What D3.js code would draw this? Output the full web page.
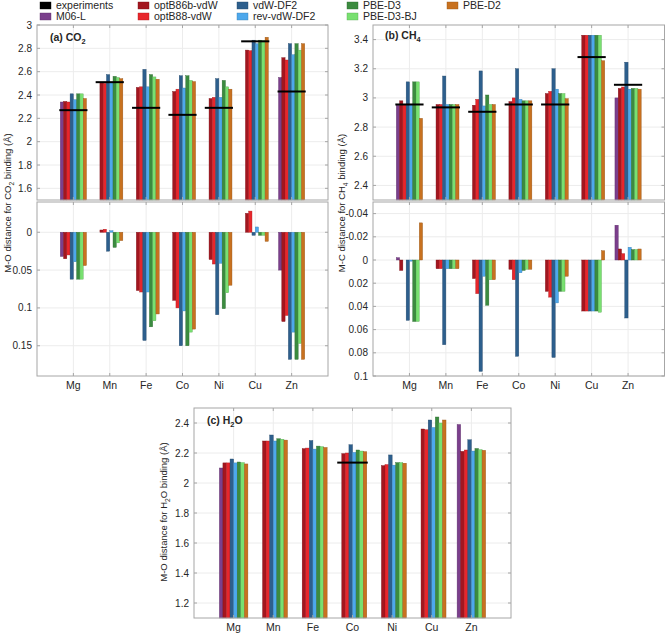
<!DOCTYPE html>
<html>
<head>
<meta charset="utf-8">
<script src="https://cdn.jsdelivr.net/npm/d3@7"></script>
<style>
  body { margin: 0; background: #fff; }
  text { font-family: "Liberation Sans", Arial, sans-serif; fill: #262626; }
</style>
</head>
<body>
<svg id="chart" width="666" height="634"></svg>
<script>
// metals on the x axis
const metals = ['Mg', 'Mn', 'Fe', 'Co', 'Ni', 'Cu', 'Zn'];

// bar series (experiments is drawn as a black line)
const methods = ['M06-L', 'optB86b-vdW', 'optB88-vdW', 'vdW-DF2', 'rev-vdW-DF2', 'PBE-D3', 'PBE-D3-BJ', 'PBE-D2'];
const methodColors = ['#7b3f8c', '#a3161f', '#e8262b', '#2d5f8d', '#4da8ec', '#3b8b3f', '#78e070', '#c8711f'];

// (a) CO2, M-O distance, rows follow methods, columns follow metals
const co2Dist = [
    [2.34, null, null, null, null, null, 2.55],
    [2.345, 2.505, 2.465, 2.43, 2.37, 2.785, 2.72],
    [2.34, 2.50, 2.47, 2.45, 2.38, 2.78, 2.70],
    [2.41, 2.575, 2.62, 2.565, 2.54, 2.87, 2.84],
    [2.36, 2.51, 2.47, 2.46, 2.38, 2.84, 2.745],
    [2.41, 2.56, 2.575, 2.565, 2.525, 2.87, 2.84],
    [2.41, 2.55, 2.555, 2.525, 2.47, 2.865, 2.785],
    [2.37, 2.54, 2.535, 2.515, 2.45, 2.895, 2.84]
];
const co2Exp = [2.27, 2.51, 2.29, 2.23, 2.29, 2.86, 2.43];
const co2Diff = [
    [0.032, null, null, null, null, null, 0.050],
    [0.035, -0.003, 0.077, 0.090, 0.036, -0.025, 0.118],
    [0.030, -0.004, 0.079, 0.100, 0.042, -0.028, 0.110],
    [0.062, 0.025, 0.143, 0.150, 0.109, 0.004, 0.168],
    [0.039, -0.002, 0.079, 0.104, 0.041, -0.007, 0.132],
    [0.062, 0.020, 0.125, 0.150, 0.101, 0.004, 0.168],
    [0.062, 0.014, 0.117, 0.132, 0.080, 0.004, 0.147],
    [0.044, 0.011, 0.108, 0.128, 0.070, 0.012, 0.168]
];

// (b) CH4, M-C distance
const ch4Dist = [
    [2.95, null, null, null, null, null, 3.00],
    [2.98, 2.955, 2.95, 2.975, 3.03, 3.43, 3.065],
    [2.955, 2.955, 2.99, 3.00, 3.045, 3.43, 3.075],
    [3.11, 3.15, 3.185, 3.20, 3.20, 3.43, 3.245],
    [2.955, 2.955, 2.945, 2.99, 3.06, 3.43, 3.06],
    [3.11, 2.955, 3.02, 2.98, 3.03, 3.43, 3.065],
    [3.11, 2.955, 2.955, 2.98, 3.03, 3.43, 3.065],
    [2.86, 2.955, 2.955, 2.98, 2.995, 3.255, 3.06]
];
const ch4Exp = [2.955, 2.935, 2.905, 2.955, 2.955, 3.28, 3.09];
const ch4Diff = [
    [-0.002, null, null, null, null, null, -0.030],
    [0.009, 0.0075, 0.016, 0.008, 0.027, 0.044, -0.0095],
    [0.0, 0.0075, 0.029, 0.017, 0.032, 0.044, -0.0055],
    [0.052, 0.073, 0.096, 0.083, 0.084, 0.044, 0.050],
    [0.001, 0.0075, 0.014, 0.011, 0.037, 0.044, -0.011],
    [0.053, 0.0075, 0.039, 0.009, 0.027, 0.044, -0.009],
    [0.053, 0.0075, 0.017, 0.008, 0.027, 0.045, -0.009],
    [-0.032, 0.0075, 0.017, 0.008, 0.014, -0.008, -0.0095]
];

// (c) H2O, M-O distance
const h2oDist = [
    [2.10, null, null, null, null, null, 2.39],
    [2.134, 2.28, 2.229, 2.196, 2.116, 2.36, 2.211],
    [2.134, 2.28, 2.233, 2.20, 2.123, 2.355, 2.22],
    [2.16, 2.32, 2.283, 2.255, 2.187, 2.42, 2.288],
    [2.134, 2.28, 2.226, 2.204, 2.119, 2.37, 2.213],
    [2.14, 2.295, 2.246, 2.22, 2.136, 2.44, 2.23],
    [2.136, 2.292, 2.242, 2.213, 2.136, 2.40, 2.222],
    [2.127, 2.286, 2.237, 2.209, 2.132, 2.42, 2.218]
];
const h2oExp = [null, null, null, 2.136, null, null, null];

// tick values
const co2Ticks = [1.6, 1.8, 2.0, 2.2, 2.4, 2.6, 2.8, 3.0];
const co2DiffTicks = [0, 0.05, 0.1, 0.15];
const ch4Ticks = [2.4, 2.6, 2.8, 3.0, 3.2, 3.4];
const ch4DiffTicks = [-0.04, -0.02, 0, 0.02, 0.04, 0.06, 0.08, 0.1];
const h2oTicks = [1.2, 1.4, 1.6, 1.8, 2.0, 2.2, 2.4];

const svg = d3.select('#chart');
const fmt = d => String(+d.toFixed(2));
const boxColor = '#a6a6a6';
const gridColor = '#ececec';

// one axes box with bars
function drawAxes(opt) {
    const x = d3.scalePoint().domain(metals).range(opt.xRange).padding(1);
    const y = d3.scaleLinear().domain(opt.yDomain).range(opt.yRange);
    const step = x.step();
    const gw = step * 0.72;
    const inner = d3.scaleBand().domain(methods).range([-gw / 2, gw / 2]);
    const [x0, x1] = opt.xRange;
    const yTop = Math.min(...opt.yRange), yBot = Math.max(...opt.yRange);
    const g = svg.append('g');

    // grid
    g.selectAll('.gy').data(opt.ticks).enter().append('line')
        .attr('x1', x0).attr('x2', x1)
        .attr('y1', d => y(d)).attr('y2', d => y(d))
        .attr('stroke', gridColor);
    g.selectAll('.gx').data(metals).enter().append('line')
        .attr('x1', d => x(d)).attr('x2', d => x(d))
        .attr('y1', yTop).attr('y2', yBot)
        .attr('stroke', gridColor);

    // bars
    const base = opt.base !== undefined ? opt.base : opt.yDomain[0];
    const cells = [];
    opt.values.forEach((row, mi) => row.forEach((v, ci) => {
        if (v !== null) cells.push({ m: methods[mi], c: metals[ci], v: v, color: methodColors[mi] });
    }));
    g.selectAll('.bar').data(cells).enter().append('rect')
        .attr('x', d => x(d.c) + inner(d.m))
        .attr('width', inner.bandwidth())
        .attr('y', d => Math.min(y(d.v), y(base)))
        .attr('height', d => Math.abs(y(d.v) - y(base)))
        .attr('fill', d => d.color)
        .attr('stroke', d => d3.color(d.color).darker(0.8))
        .attr('stroke-width', 0.4);

    // experiment lines
    if (opt.exp) {
        const ex = opt.exp.map((v, i) => ({ c: metals[i], v: v })).filter(d => d.v !== null);
        g.selectAll('.exp').data(ex).enter().append('line')
            .attr('x1', d => x(d.c) - gw / 2 - 1).attr('x2', d => x(d.c) + gw / 2 + 1)
            .attr('y1', d => y(d.v)).attr('y2', d => y(d.v))
            .attr('stroke', '#000').attr('stroke-width', 2);
    }

    // box
    g.append('rect')
        .attr('x', x0).attr('y', yTop)
        .attr('width', x1 - x0).attr('height', yBot - yTop)
        .attr('fill', 'none').attr('stroke', boxColor);

    // inward ticks on all sides
    opt.ticks.forEach(t => {
        g.append('line').attr('x1', x0).attr('x2', x0 + 3).attr('y1', y(t)).attr('y2', y(t)).attr('stroke', boxColor);
        g.append('line').attr('x1', x1).attr('x2', x1 - 3).attr('y1', y(t)).attr('y2', y(t)).attr('stroke', boxColor);
    });
    metals.forEach(m => {
        g.append('line').attr('x1', x(m)).attr('x2', x(m)).attr('y1', yBot).attr('y2', yBot - 3).attr('stroke', boxColor);
        g.append('line').attr('x1', x(m)).attr('x2', x(m)).attr('y1', yTop).attr('y2', yTop + 3).attr('stroke', boxColor);
    });

    // tick labels
    g.selectAll('.yl').data(opt.ticks).enter().append('text')
        .attr('x', x0 - 5).attr('y', d => y(d)).attr('dy', '0.35em')
        .attr('text-anchor', 'end').attr('font-size', 10)
        .text(fmt);
    if (opt.xLabels) {
        g.selectAll('.xl').data(metals).enter().append('text')
            .attr('x', d => x(d)).attr('y', yBot + 13)
            .attr('text-anchor', 'middle').attr('font-size', 10.5)
            .text(d => d);
    }
    return g;
}

// text with a subscript part: parts = [[text, isSub], ...]
function richText(sel, parts, size) {
    parts.forEach(p => {
        const t = sel.append('tspan').text(p[0]);
        if (p[1]) t.attr('font-size', size * 0.7).attr('dy', 3);
        else if (sel.selectAll('tspan').size() > 1) t.attr('dy', -3);
    });
    return sel;
}

// panel (a)
drawAxes({ xRange: [37, 328], yDomain: [1.5, 3.0], yRange: [200, 25], ticks: co2Ticks, values: co2Dist, exp: co2Exp });
drawAxes({ xRange: [37, 328], yDomain: [-0.04, 0.19], yRange: [202, 376], ticks: co2DiffTicks, values: co2Diff, base: 0, xLabels: true });
// panel (b)
drawAxes({ xRange: [373, 664.5], yDomain: [2.3, 3.5], yRange: [200, 25], ticks: ch4Ticks, values: ch4Dist, exp: ch4Exp });
drawAxes({ xRange: [373, 664.5], yDomain: [-0.05, 0.1], yRange: [202, 376], ticks: ch4DiffTicks, values: ch4Diff, base: 0, xLabels: true });
// panel (c)
drawAxes({ xRange: [194, 511], yDomain: [1.1, 2.5], yRange: [618, 408], ticks: h2oTicks, values: h2oDist, exp: h2oExp, xLabels: true });

// panel titles
richText(svg.append('text').attr('x', 50).attr('y', 41).attr('font-size', 10.5).attr('font-weight', 'bold'), [['(a) CO', false], ['2', true]], 10.5);
richText(svg.append('text').attr('x', 385).attr('y', 39).attr('font-size', 10.5).attr('font-weight', 'bold'), [['(b) CH', false], ['4', true]], 10.5);
richText(svg.append('text').attr('x', 207).attr('y', 424).attr('font-size', 10.5).attr('font-weight', 'bold'), [['(c) H', false], ['2', true], ['O', false]], 10.5);

// y axis labels
function yLabel(cx, cy, parts) {
    const t = svg.append('text')
        .attr('transform', `translate(${cx},${cy}) rotate(-90)`)
        .attr('text-anchor', 'middle').attr('font-size', 9.5);
    richText(t, parts, 9.5);
}
yLabel(11, 203, [['M-O distance for CO', false], ['2', true], [' binding (Å)', false]]);
yLabel(345, 203, [['M-C distance for CH', false], ['4', true], [' binding (Å)', false]]);
yLabel(167, 512, [['M-O distance for H', false], ['2', true], ['O binding (Å)', false]]);

// legend
const legendItems = [{ name: 'experiments', color: '#000' }]
    .concat(methods.map((m, i) => ({ name: m, color: methodColors[i] })));
const legendCols = [40, 138, 237, 347, 447];
const legend = svg.append('g').selectAll('g').data(legendItems).enter().append('g')
    .attr('transform', (d, i) => `translate(${legendCols[Math.floor(i / 2)]},${i % 2 === 0 ? 5.5 : 16.5})`);
legend.append('rect').attr('x', 0).attr('y', -3.5).attr('width', 11).attr('height', 7)
    .attr('fill', d => d.color).attr('stroke', d => d3.color(d.color).darker(0.8)).attr('stroke-width', 0.4);
legend.append('text').attr('x', 16).attr('y', 0).attr('dy', '0.35em').attr('font-size', 10.5)
    .text(d => d.name);
</script>
</body>
</html>
